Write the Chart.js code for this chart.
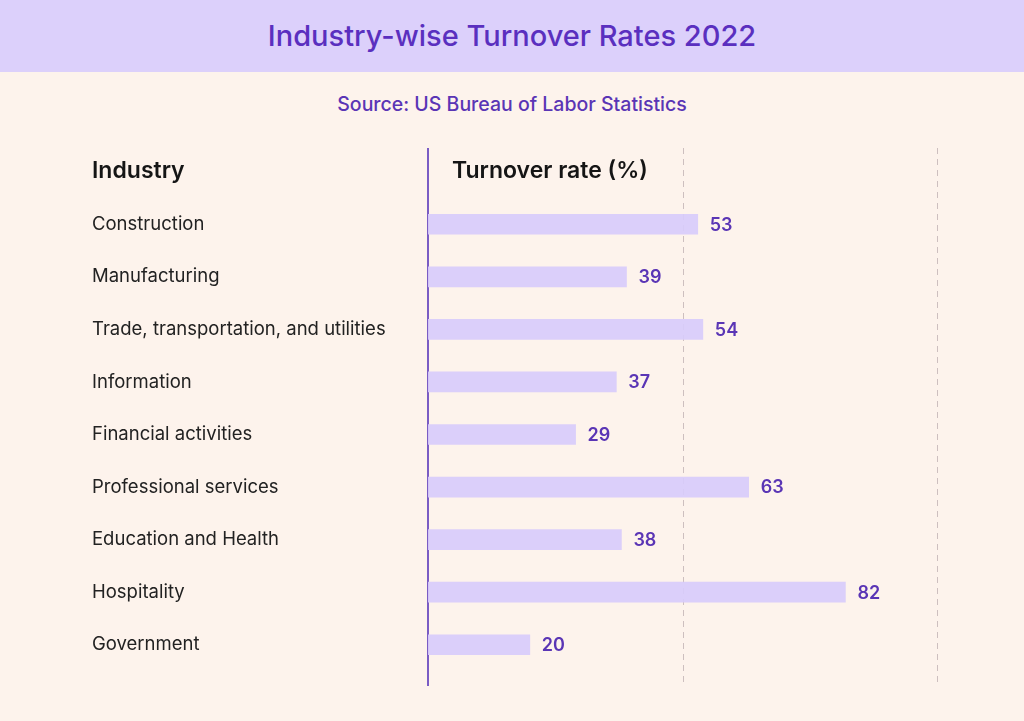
<!DOCTYPE html>
<html lang="en">
<head>
    <meta charset="UTF-8">
    <title>Industry-wise Turnover Rates 2022</title>
    <script src="https://cdn.jsdelivr.net/npm/chart.js"></script>
    <style>
        html, body { margin: 0; padding: 0; }
        body { width: 1024px; height: 721px; background: #fdf3ec; position: relative; overflow: hidden; font-family: Inter, "Noto Sans", sans-serif; }
        .band { position: absolute; left: 0; top: 0; width: 1024px; height: 72px; background: #dcd0fb; color: #5a2fbf;
                font-size: 29px; font-weight: 500; text-align: center; line-height: 72px; }
        .source { position: absolute; left: 0; top: 90px; width: 1024px; text-align: center; color: #5a35b5;
                  font-size: 19.5px; font-weight: 500; line-height: 28px; }
        .wrap { position: absolute; left: 0; top: 140px; width: 1024px; height: 581px; }
    </style>
</head>
<body>
    <div class="band">Industry-wise Turnover Rates 2022</div>
    <div class="source">Source: US Bureau of Labor Statistics</div>
    <div class="wrap"><canvas id="myChart" width="1024" height="581"></canvas></div>

    <script>
        const industries = ['Construction', 'Manufacturing', 'Trade, transportation, and utilities', 'Information',
            'Financial activities', 'Professional services', 'Education and Health', 'Hospitality', 'Government'];
        const turnover = [53, 39, 54, 37, 29, 63, 38, 82, 20];
        const gridValues = [50, 100];

        const fontFam = 'Inter, "Noto Sans", sans-serif';

        // axis line, dashed guides, headers and value labels
        const decor = {
            id: 'decor',
            beforeDatasetsDraw(chart) {
                const ctx = chart.ctx;
                const xs = chart.scales.x;
                const top = 8, bottom = 546;
                ctx.save();
                ctx.strokeStyle = '#cdbfbf';
                ctx.lineWidth = 1;
                ctx.setLineDash([6, 5]);
                gridValues.forEach(v => {
                    const x = Math.round(xs.getPixelForValue(v)) + 0.5;
                    ctx.beginPath();
                    ctx.moveTo(x, top);
                    ctx.lineTo(x, bottom);
                    ctx.stroke();
                });
                ctx.setLineDash([]);
                ctx.strokeStyle = '#7a5cc4';
                ctx.lineWidth = 2;
                const x0 = xs.getPixelForValue(0);
                ctx.beginPath();
                ctx.moveTo(x0, top);
                ctx.lineTo(x0, bottom);
                ctx.stroke();

                ctx.fillStyle = '#151515';
                ctx.font = '600 23px ' + fontFam;
                ctx.textBaseline = 'middle';
                ctx.textAlign = 'left';
                ctx.fillText('Industry', 92, 31);
                ctx.fillText('Turnover rate (%)', x0 + 24, 31);
                ctx.restore();
            },
            afterDatasetsDraw(chart) {
                const ctx = chart.ctx;
                const meta = chart.getDatasetMeta(0);
                ctx.save();
                ctx.fillStyle = '#5a35b5';
                ctx.font = '600 18px ' + fontFam;
                ctx.textBaseline = 'middle';
                ctx.textAlign = 'left';
                meta.data.forEach((bar, i) => {
                    ctx.fillText(turnover[i], bar.x + 12, bar.y + 1);
                });
                ctx.restore();
            }
        };

        const ctx = document.getElementById('myChart').getContext('2d');
        new Chart(ctx, {
            type: 'bar',
            data: {
                labels: industries,
                datasets: [{
                    data: turnover,
                    backgroundColor: 'rgba(216, 204, 251, 0.92)',
                    borderWidth: 0,
                    barThickness: 20
                }]
            },
            options: {
                indexAxis: 'y',
                responsive: false,
                animation: false,
                devicePixelRatio: 1,
                layout: { padding: { left: 92, right: 87, top: 58, bottom: 50 } },
                plugins: { legend: { display: false }, tooltip: { enabled: false } },
                scales: {
                    x: {
                        min: 0, max: 100,
                        ticks: { display: false },
                        grid: { display: false },
                        border: { display: false },
                        afterFit(scale) { scale.height = 0; }
                    },
                    y: {
                        grid: { display: false },
                        border: { display: false },
                        afterFit(scale) { scale.width = 336; },
                        ticks: {
                            crossAlign: 'far',
                            padding: 0,
                            color: '#222222',
                            font: { family: fontFam, size: 18.5 }
                        }
                    }
                }
            },
            plugins: [decor]
        });
    </script>
</body>
</html>
